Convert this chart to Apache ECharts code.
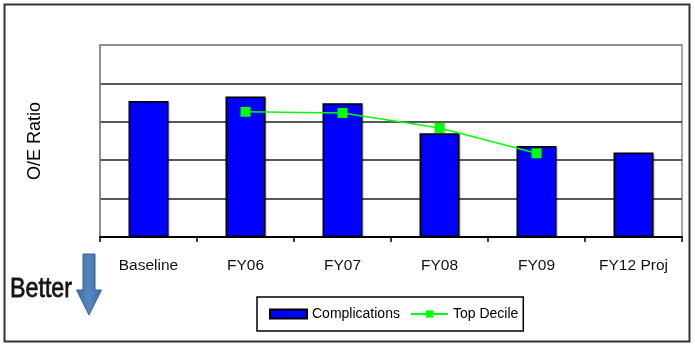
<!DOCTYPE html>
<html>
<head>
<meta charset="utf-8">
<script src="https://cdn.jsdelivr.net/npm/echarts@6/dist/echarts.min.js"></script>
<style>
  html, body { margin: 0; padding: 0; background: #fff; }
  #chart { width: 695px; height: 346px; }
</style>
</head>
<body>
<div id="chart"></div>
<script>
// Categories and series values
var categories = ['Baseline', 'FY06', 'FY07', 'FY08', 'FY09', 'FY12 Proj'];
var complications = [1.77, 1.83, 1.74, 1.35, 1.185, 1.10];
var topDecile = [null, 1.63, 1.615, 1.42, 1.09, null];

var chart = echarts.init(document.getElementById('chart'), null, { renderer: 'canvas' });
var font = 'Liberation Sans, Arial, sans-serif';

chart.setOption({
  animation: false,
  backgroundColor: '#ffffff',
  grid: {
    left: 100, right: 13, top: 45, bottom: 109,
    show: true, borderColor: '#888888', borderWidth: 1.5, backgroundColor: 'transparent'
  },
  xAxis: {
    type: 'category',
    data: categories,
    boundaryGap: true,
    axisLine: { lineStyle: { color: '#000', width: 2 } },
    axisTick: { show: true, length: 5, lineStyle: { color: '#000', width: 1.5 } },
    axisLabel: { color: '#111', fontSize: 15.5, fontFamily: font, margin: 21 }
  },
  yAxis: {
    type: 'value',
    min: 0, max: 2.5, interval: 0.5,
    name: 'O/E Ratio',
    nameLocation: 'middle',
    nameGap: 56,
    nameRotate: 90,
    nameTextStyle: { color: '#000', fontSize: 18, fontFamily: font },
    axisLine: { show: true, lineStyle: { color: '#888888', width: 1.5 } },
    axisTick: { show: false },
    axisLabel: { show: false },
    splitLine: {
      show: true,
      lineStyle: { color: ['#222', '#222', '#222', '#222', '#222', '#888'], width: 1.5 }
    }
  },
  legend: {
    left: 257, top: 297,
    padding: [10, 5, 10, 12],
    borderColor: '#000', borderWidth: 1.5,
    itemGap: 10,
    itemWidth: 37, itemHeight: 9,
    textStyle: { color: '#000', fontSize: 14, fontFamily: font },
    data: [
      { name: 'Complications', icon: 'rect' },
      { name: 'Top Decile' }
    ]
  },
  series: [
    {
      name: 'Complications',
      type: 'bar',
      data: complications,
      barWidth: 40,
      itemStyle: {
        color: '#0000ff', borderColor: '#000', borderWidth: 1.5,
        shadowColor: 'rgba(0,0,0,0.25)', shadowOffsetX: 1, shadowOffsetY: 1, shadowBlur: 1
      },
      z: 2
    },
    {
      name: 'Top Decile',
      type: 'line',
      data: topDecile,
      connectNulls: false,
      symbol: 'rect',
      symbolSize: 10,
      itemStyle: { color: '#00ff00' },
      lineStyle: { color: '#00ff00', width: 1.5 },
      z: 3
    }
  ],
  graphic: [
    {
      type: 'rect',
      shape: { x: 4.5, y: 4.5, width: 685, height: 337 },
      style: { fill: 'none', stroke: '#333', lineWidth: 2 },
      silent: true, z: 0
    },
    {
      type: 'text',
      x: 10, y: 275,
      scaleX: 0.83,
      style: {
        text: 'Better',
        fill: '#141414',
        stroke: '#141414',
        lineWidth: 0.8,
        font: '28px "Liberation Sans", Arial, sans-serif'
      },
      z: 5
    },
    {
      type: 'polygon',
      shape: {
        points: [[83, 254], [95, 254], [95, 290], [101.5, 290], [89, 315], [76.5, 290], [83, 290]]
      },
      style: {
        fill: {
          type: 'linear', x: 0, y: 0, x2: 1, y2: 0,
          colorStops: [
            { offset: 0, color: '#3f6fa6' },
            { offset: 0.5, color: '#5586c0' },
            { offset: 1, color: '#3f6fa6' }
          ]
        },
        stroke: '#3a5f8d', lineWidth: 1
      },
      z: 5
    }
  ]
});
</script>
</body>
</html>
